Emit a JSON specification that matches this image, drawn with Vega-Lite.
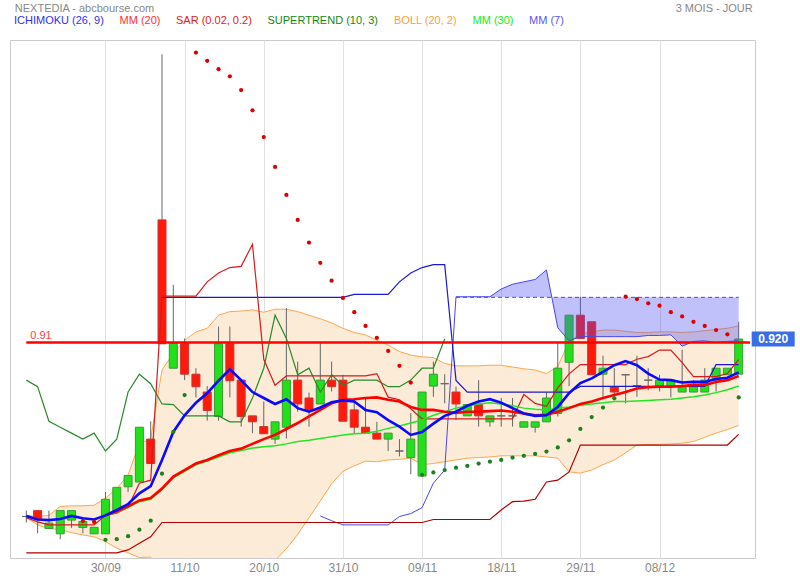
{
  "$schema": "https://vega.github.io/schema/vega-lite/v6.json",
  "width": 745,
  "height": 518,
  "autosize": {"type": "none"},
  "padding": {"left": 10, "top": 40, "right": 45, "bottom": 22},
  "background": "white",
  "config": {
    "font": "Liberation Sans",
    "view": {"stroke": "#cccccc"},
    "axis": {"grid": true, "gridColor": "#e0e0e0", "domain": false, "ticks": false, "labelColor": "#888888", "labelFontSize": 12}
  },
  "datasets": {
    "levels": [{"from": 0, "to": 64, "v": 0.914, "label": "0.91"}],
    "last": [{"i": 66.05, "v": 0.92, "label": "0.920"}],
    "legend": [{"name": "ICHIMOKU (26, 9)"}, {"name": "MM (20)"}, {"name": "SAR (0.02, 0.2)"}, {"name": "SUPERTREND (10, 3)"}, {"name": "BOLL (20, 2)"}, {"name": "MM (30)"}, {"name": "MM (7)"}]
  },
  "data": {"values": [
    {"i":0,"o":0.622,"h":0.632,"l":0.612,"c":0.622,"m7":0.623,"bu":0.624,"bl":0.620,"st":0.561,"tk":0.620,"ck":0.851},
    {"i":1,"o":0.632,"h":0.632,"l":0.594,"c":0.618,"m7":0.617,"bu":0.622,"bl":0.608,"st":0.561,"tk":0.613,"ck":0.840},
    {"i":2,"o":0.602,"h":0.632,"l":0.602,"c":0.611,"m7":0.616,"bu":0.624,"bl":0.602,"st":0.561,"tk":0.608,"ck":0.782},
    {"i":3,"o":0.593,"h":0.632,"l":0.584,"c":0.632,"m7":0.618,"bu":0.639,"bl":0.600,"st":0.561,"tk":0.608,"ck":0.772},
    {"i":4,"o":0.616,"h":0.632,"l":0.603,"c":0.632,"m7":0.623,"bu":0.640,"bl":0.595,"st":0.561,"tk":0.608,"ck":0.762},
    {"i":5,"o":0.6035,"h":0.619,"l":0.594,"c":0.6136,"m7":0.619,"bu":0.640,"bl":0.591,"sar":0.6145,"st":0.561,"tk":0.608,"ck":0.752},
    {"i":6,"o":0.593,"h":0.604,"l":0.593,"c":0.604,"m7":0.617,"bu":0.641,"bl":0.588,"sar":0.613,"st":0.561,"tk":0.608,"ck":0.762},
    {"i":7,"o":0.593,"h":0.663,"l":0.593,"c":0.651,"m7":0.624,"m20":0.624,"m30":0.623,"bu":0.653,"bl":0.580,"sar":0.583,"st":0.561,"tk":0.624,"ck":0.732},
    {"i":8,"o":0.632,"h":0.671,"l":0.632,"c":0.671,"m7":0.633,"m20":0.631,"m30":0.629,"bu":0.669,"bl":0.569,"sar":0.584,"st":0.561,"tk":0.6275,"ck":0.752},
    {"i":9,"o":0.672,"h":0.691,"l":0.663,"c":0.691,"m7":0.643,"m20":0.639,"m30":0.637,"bu":0.692,"bl":0.561,"sar":0.589,"st":0.566,"tk":0.6375,"ck":0.831},
    {"i":10,"o":0.680,"h":0.772,"l":0.680,"c":0.772,"m7":0.661,"m20":0.649,"m30":0.647,"bu":0.745,"bl":0.553,"sar":0.600,"st":0.577,"tk":0.678,"ck":0.861},
    {"i":11,"o":0.752,"h":0.782,"l":0.711,"c":0.711,"m7":0.673,"m20":0.653,"m30":0.651,"bu":0.752,"bl":0.554,"sar":0.615,"st":0.588,"tk":0.683,"ck":0.845},
    {"i":12,"o":1.12,"h":1.398,"l":0.912,"c":0.912,"m7":0.717,"m20":0.669,"m30":0.667,"bu":0.868,"bl":0.470,"sar":0.694,"st":0.612,"tk":0.992,"kj":0.990,"ck":0.811},
    {"i":13,"o":0.871,"h":1.011,"l":0.871,"c":0.913,"m7":0.764,"m20":0.689,"m30":0.687,"bu":0.896,"bl":0.482,"sar":0.764,"st":0.612,"tk":0.992,"kj":0.990,"ck":0.810},
    {"i":14,"o":0.912,"h":0.921,"l":0.851,"c":0.861,"m7":0.792,"m20":0.700,"m30":0.698,"bu":0.918,"bl":0.482,"sar":0.826,"st":0.612,"tk":0.992,"kj":0.990,"ck":0.791},
    {"i":15,"o":0.861,"h":0.871,"l":0.822,"c":0.840,"m7":0.813,"m20":0.711,"m30":0.709,"bu":0.932,"bl":0.490,"sar":1.401,"st":0.612,"tk":0.992,"kj":0.990,"ck":0.791},
    {"i":16,"o":0.831,"h":0.841,"l":0.783,"c":0.800,"m7":0.829,"m20":0.717,"m30":0.715,"bu":0.938,"bl":0.496,"sar":1.387,"st":0.612,"tk":1.016,"kj":0.990,"ck":0.791},
    {"i":17,"o":0.790,"h":0.941,"l":0.783,"c":0.912,"m7":0.850,"m20":0.725,"m30":0.722,"bu":0.960,"bl":0.490,"sar":1.373,"st":0.612,"tk":1.031,"kj":0.990,"ck":0.791},
    {"i":18,"o":0.912,"h":0.941,"l":0.822,"c":0.850,"m7":0.869,"m20":0.732,"m30":0.729,"bu":0.966,"bl":0.498,"sar":1.361,"st":0.612,"tk":1.040,"kj":0.990,"ck":0.781},
    {"i":19,"o":0.851,"h":0.851,"l":0.773,"c":0.790,"m7":0.851,"m20":0.736,"m30":0.733,"bu":0.967,"bl":0.505,"sar":1.338,"st":0.612,"tk":1.042,"kj":0.990,"ck":0.781},
    {"i":20,"o":0.791,"h":0.791,"l":0.762,"c":0.781,"m7":0.831,"m20":0.744,"m30":0.737,"bu":0.969,"bl":0.519,"sar":1.304,"st":0.612,"tk":1.079,"kj":0.990,"ck":0.821},
    {"i":21,"o":0.773,"h":0.815,"l":0.761,"c":0.761,"m7":0.821,"m20":0.752,"m30":0.739,"bu":0.965,"bl":0.539,"sar":1.259,"st":0.612,"tk":0.886,"kj":0.990,"ck":0.871},
    {"i":22,"o":0.752,"h":0.781,"l":0.744,"c":0.781,"m7":0.811,"m20":0.759,"m30":0.741,"bu":0.970,"bl":0.548,"sar":1.209,"st":0.612,"tk":0.8425,"kj":0.990,"ck":0.960},
    {"i":23,"o":0.772,"h":0.972,"l":0.753,"c":0.851,"m7":0.819,"m20":0.769,"m30":0.744,"bu":0.970,"bl":0.568,"sar":1.162,"st":0.612,"tk":0.858,"kj":0.990,"ck":0.921},
    {"i":24,"o":0.851,"h":0.882,"l":0.798,"c":0.811,"m7":0.804,"m20":0.779,"m30":0.748,"bu":0.966,"bl":0.592,"sar":1.120,"st":0.612,"tk":0.858,"kj":0.990,"ck":0.860},
    {"i":25,"o":0.821,"h":0.830,"l":0.773,"c":0.800,"m7":0.798,"m20":0.790,"m30":0.750,"bu":0.960,"bl":0.620,"sar":1.082,"st":0.612,"tk":0.858,"kj":0.990,"ck":0.871},
    {"i":26,"o":0.811,"h":0.913,"l":0.811,"c":0.851,"m7":0.805,"m20":0.801,"m30":0.753,"bu":0.954,"bl":0.648,"sar":1.048,"st":0.612,"tk":0.858,"kj":0.990,"ssa":0.623,"ck":0.831},
    {"i":27,"o":0.851,"h":0.882,"l":0.832,"c":0.840,"m7":0.814,"m20":0.812,"m30":0.756,"bu":0.947,"bl":0.677,"sar":1.018,"st":0.612,"tk":0.858,"kj":0.990,"ssa":0.615,"ck":0.860},
    {"i":28,"o":0.851,"h":0.860,"l":0.782,"c":0.782,"m7":0.817,"m20":0.818,"m30":0.759,"bu":0.938,"bl":0.698,"sar":0.989,"st":0.612,"tk":0.858,"kj":0.990,"ssa":0.608,"ck":0.842},
    {"i":29,"o":0.801,"h":0.821,"l":0.762,"c":0.772,"m7":0.815,"m20":0.819,"m30":0.761,"bu":0.931,"bl":0.707,"sar":0.965,"st":0.612,"tk":0.858,"kj":0.995,"ssa":0.608,"ck":0.851},
    {"i":30,"o":0.772,"h":0.821,"l":0.762,"c":0.762,"m7":0.801,"m20":0.821,"m30":0.762,"bu":0.927,"bl":0.715,"sar":0.942,"st":0.612,"tk":0.858,"kj":0.995,"ssa":0.608,"ck":0.851},
    {"i":31,"o":0.762,"h":0.781,"l":0.752,"c":0.752,"m7":0.797,"m20":0.822,"m30":0.765,"bu":0.918,"bl":0.714,"sar":0.922,"st":0.612,"tk":0.862,"kj":0.995,"ssa":0.608,"ck":0.851},
    {"i":32,"o":0.752,"h":0.762,"l":0.732,"c":0.762,"m7":0.784,"m20":0.818,"m30":0.770,"bu":0.910,"bl":0.717,"sar":0.900,"st":0.612,"tk":0.8225,"kj":0.995,"ssa":0.608,"ck":0.840},
    {"i":33,"o":0.732,"h":0.752,"l":0.723,"c":0.732,"m7":0.773,"m20":0.815,"m30":0.774,"bu":0.899,"bl":0.718,"sar":0.875,"st":0.612,"tk":0.818,"kj":1.016,"ssa":0.622,"ck":0.840},
    {"i":34,"o":0.721,"h":0.796,"l":0.693,"c":0.752,"m7":0.759,"m20":0.806,"m30":0.779,"bu":0.893,"bl":0.720,"sar":0.847,"st":0.612,"tk":0.803,"kj":1.031,"ssa":0.627,"ck":0.851},
    {"i":35,"o":0.690,"h":0.831,"l":0.690,"c":0.831,"m7":0.764,"m20":0.801,"m30":0.784,"bu":0.890,"bl":0.709,"sar":0.692,"st":0.612,"tk":0.786,"kj":1.040,"ssa":0.637,"ck":0.871},
    {"i":36,"o":0.841,"h":0.882,"l":0.823,"c":0.861,"m7":0.778,"m20":0.801,"m30":0.792,"bu":0.889,"bl":0.711,"sar":0.696,"st":0.617,"tk":0.786,"kj":1.045,"ssa":0.678,"ck":0.871},
    {"i":37,"o":0.845,"h":0.861,"l":0.812,"c":0.845,"m7":0.791,"m20":0.798,"m30":0.798,"bu":0.879,"bl":0.714,"sar":0.700,"st":0.617,"tk":0.786,"kj":1.045,"ssa":0.700,"ck":0.920},
    {"i":38,"o":0.831,"h":0.840,"l":0.784,"c":0.811,"m7":0.798,"m20":0.796,"m30":0.804,"bu":0.875,"bl":0.717,"sar":0.704,"st":0.617,"tk":0.786,"kj":0.8505,"ssa":0.991,"ssb":0.990},
    {"i":39,"o":0.791,"h":0.810,"l":0.791,"c":0.810,"m7":0.808,"m20":0.798,"m30":0.808,"bu":0.875,"bl":0.720,"sar":0.707,"st":0.617,"tk":0.786,"kj":0.831,"ssa":0.991,"ssb":0.990},
    {"i":40,"o":0.810,"h":0.851,"l":0.773,"c":0.791,"m7":0.815,"m20":0.798,"m30":0.811,"bu":0.875,"bl":0.721,"sar":0.711,"st":0.617,"tk":0.786,"kj":0.831,"ssa":0.991,"ssb":0.990},
    {"i":41,"o":0.781,"h":0.791,"l":0.773,"c":0.791,"m7":0.819,"m20":0.799,"m30":0.813,"bu":0.876,"bl":0.722,"sar":0.714,"st":0.617,"tk":0.786,"kj":0.831,"ssa":0.991,"ssb":0.990},
    {"i":42,"o":0.791,"h":0.821,"l":0.773,"c":0.791,"m7":0.813,"m20":0.800,"m30":0.811,"bu":0.876,"bl":0.724,"sar":0.717,"st":0.633,"tk":0.786,"kj":0.831,"ssa":1.004,"ssb":0.990},
    {"i":43,"o":0.791,"h":0.821,"l":0.773,"c":0.791,"m7":0.804,"m20":0.798,"m30":0.808,"bu":0.873,"bl":0.724,"sar":0.721,"st":0.647,"tk":0.786,"kj":0.831,"ssa":1.012,"ssb":0.990},
    {"i":44,"o":0.772,"h":0.781,"l":0.772,"c":0.781,"m7":0.795,"m20":0.795,"m30":0.804,"bu":0.870,"bl":0.724,"sar":0.724,"st":0.648,"tk":0.827,"kj":0.831,"ssa":1.016,"ssb":0.990},
    {"i":45,"o":0.772,"h":0.781,"l":0.763,"c":0.781,"m7":0.791,"m20":0.792,"m30":0.802,"bu":0.868,"bl":0.724,"sar":0.727,"st":0.651,"tk":0.812,"kj":0.831,"ssa":1.020,"ssb":0.990},
    {"i":46,"o":0.781,"h":0.830,"l":0.781,"c":0.821,"m7":0.792,"m20":0.793,"m30":0.801,"bu":0.862,"bl":0.722,"sar":0.731,"st":0.680,"tk":0.807,"kj":0.831,"ssa":1.036,"ssb":0.990},
    {"i":47,"o":0.795,"h":0.913,"l":0.790,"c":0.871,"m7":0.806,"m20":0.798,"m30":0.804,"bu":0.874,"bl":0.720,"sar":0.738,"st":0.683,"tk":0.838,"kj":0.831,"ssa":0.939,"ssb":0.990},
    {"i":48,"o":0.881,"h":0.960,"l":0.841,"c":0.960,"m7":0.829,"m20":0.804,"m30":0.806,"bu":0.916,"bl":0.697,"sar":0.750,"st":0.697,"tk":0.8615,"kj":0.831,"ssa":0.917,"ssb":0.990},
    {"i":49,"o":0.960,"h":0.991,"l":0.921,"c":0.921,"m7":0.846,"m20":0.811,"m30":0.809,"bu":0.928,"bl":0.695,"sar":0.769,"st":0.742,"tk":0.877,"kj":0.8405,"ssa":0.924,"ssb":0.990},
    {"i":50,"o":0.949,"h":0.949,"l":0.860,"c":0.860,"m7":0.854,"m20":0.815,"m30":0.811,"bu":0.932,"bl":0.700,"sar":0.789,"st":0.742,"tk":0.877,"kj":0.8405,"ssa":0.924,"ssb":0.990},
    {"i":51,"o":0.861,"h":0.892,"l":0.823,"c":0.871,"m7":0.865,"m20":0.821,"m30":0.813,"bu":0.935,"bl":0.709,"sar":0.805,"st":0.742,"tk":0.877,"kj":0.8405,"ssa":0.924,"ssb":0.990},
    {"i":52,"o":0.840,"h":0.871,"l":0.823,"c":0.831,"m7":0.876,"m20":0.826,"m30":0.815,"bu":0.935,"bl":0.717,"sar":0.8205,"st":0.742,"tk":0.877,"kj":0.8405,"ssa":0.924,"ssb":0.990},
    {"i":53,"o":0.860,"h":0.860,"l":0.812,"c":0.860,"m7":0.883,"m20":0.831,"m30":0.815,"bu":0.933,"bl":0.729,"sar":0.991,"st":0.742,"tk":0.877,"kj":0.8405,"ssa":0.924,"ssb":0.990},
    {"i":54,"o":0.842,"h":0.892,"l":0.823,"c":0.842,"m7":0.876,"m20":0.837,"m30":0.816,"bu":0.931,"bl":0.742,"sar":0.987,"st":0.742,"tk":0.886,"kj":0.8405,"ssa":0.924,"ssb":0.990},
    {"i":55,"o":0.851,"h":0.871,"l":0.834,"c":0.851,"m7":0.862,"m20":0.839,"m30":0.817,"bu":0.931,"bl":0.743,"sar":0.980,"st":0.742,"tk":0.8905,"kj":0.8405,"ssa":0.926,"ssb":0.990},
    {"i":56,"o":0.841,"h":0.860,"l":0.832,"c":0.851,"m7":0.852,"m20":0.840,"m30":0.818,"bu":0.932,"bl":0.743,"sar":0.976,"st":0.742,"tk":0.9015,"kj":0.8405,"ssa":0.926,"ssb":0.990},
    {"i":57,"o":0.841,"h":0.851,"l":0.822,"c":0.851,"m7":0.851,"m20":0.840,"m30":0.819,"bu":0.932,"bl":0.744,"sar":0.965,"st":0.742,"tk":0.9015,"kj":0.8405,"ssa":0.927,"ssb":0.990},
    {"i":58,"o":0.831,"h":0.902,"l":0.831,"c":0.840,"m7":0.847,"m20":0.841,"m30":0.821,"bu":0.931,"bl":0.745,"sar":0.958,"st":0.742,"tk":0.8805,"kj":0.8405,"ssa":0.908,"ssb":0.990},
    {"i":59,"o":0.831,"h":0.851,"l":0.831,"c":0.840,"m7":0.848,"m20":0.843,"m30":0.823,"bu":0.932,"bl":0.748,"sar":0.949,"st":0.742,"tk":0.857,"kj":0.8405,"ssa":0.916,"ssb":0.990},
    {"i":60,"o":0.831,"h":0.871,"l":0.831,"c":0.851,"m7":0.848,"m20":0.843,"m30":0.826,"bu":0.934,"bl":0.755,"sar":0.942,"st":0.742,"tk":0.857,"kj":0.8405,"ssa":0.917,"ssb":0.990},
    {"i":61,"o":0.851,"h":0.871,"l":0.832,"c":0.871,"m7":0.853,"m20":0.848,"m30":0.830,"bu":0.936,"bl":0.762,"sar":0.935,"st":0.742,"tk":0.857,"kj":0.877,"ssa":0.914,"ssb":0.990},
    {"i":62,"o":0.860,"h":0.871,"l":0.860,"c":0.871,"m7":0.855,"m20":0.851,"m30":0.835,"bu":0.938,"bl":0.768,"sar":0.928,"st":0.742,"tk":0.862,"kj":0.877,"ssa":0.916,"ssb":0.990},
    {"i":63,"o":0.861,"h":0.949,"l":0.861,"c":0.920,"m7":0.864,"m20":0.858,"m30":0.841,"bu":0.942,"bl":0.775,"sar":0.822,"st":0.760,"tk":0.8855,"kj":0.877,"ssa":0.917,"ssb":0.990}
  ]},
  "encoding": {
    "x": {"field": "i", "type": "quantitative", "scale": {"domain": [-1, 64], "nice": false, "zero": false},
      "axis": {"values": [7, 14, 21, 28, 35, 42, 49, 56], "labelExpr": "['30/09','11/10','20/10','31/10','09/11','18/11','29/11','08/12'][round((datum.value-7)/7)]", "title": null, "labelPadding": 4}}
  },
  "layer": [
    {"mark": {"type": "area", "fill": "#fcebd6", "clip": true},
     "encoding": {
       "y": {"field": "bl", "type": "quantitative", "scale": {"domain": [0.5524, 1.422], "nice": false, "zero": false},
         "axis": {"orient": "right", "values": [0.56, 0.63, 0.7, 0.77, 0.84, 0.91, 0.98, 1.05, 1.12, 1.19, 1.26, 1.33, 1.4],
           "labelExpr": "abs(datum.value-0.91) < 0.001 ? '' : format(datum.value, '.3f')", "labelPadding": 7, "labelOffset": -2.5, "title": null}},
       "y2": {"field": "bu"}}},
    {"mark": {"type": "line", "stroke": "#ffa64d", "strokeWidth": 1, "clip": true},
     "encoding": {"y": {"field": "bu", "type": "quantitative", "scale": {"domain": [0.5524, 1.422], "nice": false, "zero": false}, "axis": null}}},
    {"mark": {"type": "line", "stroke": "#ffa64d", "strokeWidth": 1, "clip": true},
     "encoding": {"y": {"field": "bl", "type": "quantitative", "scale": {"domain": [0.5524, 1.422], "nice": false, "zero": false}, "axis": null}}},
    {"mark": {"type": "rule", "stroke": "#666666", "strokeWidth": 1},
     "encoding": {"y": {"field": "l", "type": "quantitative", "scale": {"domain": [0.5524, 1.422], "nice": false, "zero": false}, "axis": null}, "y2": {"field": "h"}}},
    {"mark": {"type": "bar", "width": 8, "strokeWidth": 1},
     "encoding": {"y": {"field": "o", "type": "quantitative", "scale": {"domain": [0.5524, 1.422], "nice": false, "zero": false}, "axis": null}, "y2": {"field": "c"},
       "fill": {"condition": [{"test": "datum.c > datum.o", "value": "#22e01a"}, {"test": "datum.c < datum.o", "value": "#ff1a0a"}], "value": "#666666"},
       "stroke": {"condition": [{"test": "datum.c > datum.o", "value": "#3a9a3a"}, {"test": "datum.c < datum.o", "value": "#cc3333"}], "value": "#666666"}}},
    {"transform": [{"filter": "isValid(datum.ssb)"}],
     "mark": {"type": "area", "fill": "#5050f0", "opacity": 0.36},
     "encoding": {"y": {"field": "ssa", "type": "quantitative", "scale": {"domain": [0.5524, 1.422], "nice": false, "zero": false}, "axis": null}, "y2": {"field": "ssb"}}},
    {"mark": {"type": "line", "stroke": "#4848ee", "strokeWidth": 1, "strokeDash": [4, 3]},
     "encoding": {"y": {"field": "ssb", "type": "quantitative", "scale": {"domain": [0.5524, 1.422], "nice": false, "zero": false}, "axis": null}}},
    {"mark": {"type": "line", "stroke": "#4848ee", "strokeWidth": 1},
     "encoding": {"y": {"field": "ssa", "type": "quantitative", "scale": {"domain": [0.5524, 1.422], "nice": false, "zero": false}, "axis": null}}},
    {"mark": {"type": "line", "stroke": "#b00000", "strokeWidth": 1.2},
     "encoding": {"y": {"field": "st", "type": "quantitative", "scale": {"domain": [0.5524, 1.422], "nice": false, "zero": false}, "axis": null}}},
    {"mark": {"type": "line", "stroke": "#2a8a2a", "strokeWidth": 1.2},
     "encoding": {"y": {"field": "ck", "type": "quantitative", "scale": {"domain": [0.5524, 1.422], "nice": false, "zero": false}, "axis": null}}},
    {"mark": {"type": "line", "stroke": "#1a1ad0", "strokeWidth": 1.2},
     "encoding": {"y": {"field": "kj", "type": "quantitative", "scale": {"domain": [0.5524, 1.422], "nice": false, "zero": false}, "axis": null}}},
    {"mark": {"type": "line", "stroke": "#d81a1a", "strokeWidth": 1.2},
     "encoding": {"y": {"field": "tk", "type": "quantitative", "scale": {"domain": [0.5524, 1.422], "nice": false, "zero": false}, "axis": null}}},
    {"mark": {"type": "line", "stroke": "#22e622", "strokeWidth": 1.5},
     "encoding": {"y": {"field": "m30", "type": "quantitative", "scale": {"domain": [0.5524, 1.422], "nice": false, "zero": false}, "axis": null}}},
    {"mark": {"type": "line", "stroke": "#ff0000", "strokeWidth": 2.6},
     "encoding": {"y": {"field": "m20", "type": "quantitative", "scale": {"domain": [0.5524, 1.422], "nice": false, "zero": false}, "axis": null}}},
    {"mark": {"type": "line", "stroke": "#0a0aff", "strokeWidth": 2.6},
     "encoding": {"y": {"field": "m7", "type": "quantitative", "scale": {"domain": [0.5524, 1.422], "nice": false, "zero": false}, "axis": null}}},
    {"transform": [{"filter": "isValid(datum.sar)"}],
     "mark": {"type": "circle", "size": 18, "opacity": 1},
     "encoding": {"y": {"field": "sar", "type": "quantitative", "scale": {"domain": [0.5524, 1.422], "nice": false, "zero": false}, "axis": null},
       "color": {"condition": {"test": "datum.sar > datum.c", "value": "#dd0000"}, "value": "#1d801d"}}},
    {"data": {"name": "levels"},
     "mark": {"type": "rule", "stroke": "#ff0000", "strokeWidth": 2.5},
     "encoding": {"x": {"field": "from", "type": "quantitative"}, "x2": {"field": "to"},
       "y": {"field": "v", "type": "quantitative", "scale": {"domain": [0.5524, 1.422], "nice": false, "zero": false}, "axis": null}}},
    {"data": {"name": "levels"},
     "mark": {"type": "text", "color": "#ff4040", "fontSize": 11, "align": "left", "baseline": "bottom", "dx": 4, "dy": -2},
     "encoding": {"x": {"field": "from", "type": "quantitative"},
       "y": {"field": "v", "type": "quantitative", "scale": {"domain": [0.5524, 1.422], "nice": false, "zero": false}, "axis": null},
       "text": {"field": "label"}}},
    {"data": {"name": "last"},
     "mark": {"type": "rect", "fill": "#3a6ee8", "width": 43, "height": 15},
     "encoding": {"x": {"field": "i", "type": "quantitative"},
       "y": {"field": "v", "type": "quantitative", "scale": {"domain": [0.5524, 1.422], "nice": false, "zero": false}, "axis": null}}},
    {"data": {"name": "last"},
     "mark": {"type": "text", "color": "white", "fontSize": 12, "fontWeight": "bold", "align": "center", "baseline": "middle"},
     "encoding": {"x": {"field": "i", "type": "quantitative"},
       "y": {"field": "v", "type": "quantitative", "scale": {"domain": [0.5524, 1.422], "nice": false, "zero": false}, "axis": null},
       "text": {"field": "label"}}},
    {"transform": [{"aggregate": [{"op": "min", "field": "i", "as": "ni"}, {"op": "max", "field": "h", "as": "nh"}]}],
     "mark": {"type": "text", "color": "#888888", "fontSize": 11, "align": "left", "baseline": "alphabetic", "dx": -11.5, "dy": -42},
     "encoding": {
       "x": {"field": "ni", "type": "quantitative"},
       "y": {"field": "nh", "type": "quantitative", "scale": {"domain": [0.5524, 1.422], "nice": false, "zero": false}, "axis": null},
       "text": {"value": "NEXTEDIA - abcbourse.com"}}},
    {"transform": [{"aggregate": [{"op": "max", "field": "i", "as": "xi"}, {"op": "max", "field": "h", "as": "xh"}]}],
     "mark": {"type": "text", "color": "#888888", "fontSize": 11, "align": "right", "baseline": "alphabetic", "dx": 14, "dy": -42},
     "encoding": {
       "x": {"field": "xi", "type": "quantitative"},
       "y": {"field": "xh", "type": "quantitative", "scale": {"domain": [0.5524, 1.422], "nice": false, "zero": false}, "axis": null},
       "text": {"value": "3 MOIS - JOUR"}}},
    {"data": {"name": "legend"},
     "mark": {"type": "point", "opacity": 0},
     "encoding": {
       "color": {"field": "name", "type": "nominal",
         "scale": {"domain": ["ICHIMOKU (26, 9)", "MM (20)", "SAR (0.02, 0.2)", "SUPERTREND (10, 3)", "BOLL (20, 2)", "MM (30)", "MM (7)"],
                   "range": ["#3030f0", "#ff3030", "#e02020", "#118811", "#ffa030", "#11ee11", "#5555ff"]},
         "legend": {"title": null, "orient": "none", "legendX": -7, "legendY": -25, "direction": "horizontal", "padding": 0,
           "symbolSize": 1, "symbolOpacity": 0, "symbolStrokeWidth": 0, "labelOffset": 0, "columnPadding": 4.5,
           "labelFontSize": 11, "labelFont": "Liberation Sans",
           "labelColor": {"expr": "datum.value === 'ICHIMOKU (26, 9)' ? '#3030f0' : datum.value === 'MM (20)' ? '#ff3030' : datum.value === 'SAR (0.02, 0.2)' ? '#e02020' : datum.value === 'SUPERTREND (10, 3)' ? '#118811' : datum.value === 'BOLL (20, 2)' ? '#ffa030' : datum.value === 'MM (30)' ? '#11ee11' : '#5555ff'"}}}}}
  ]
}
